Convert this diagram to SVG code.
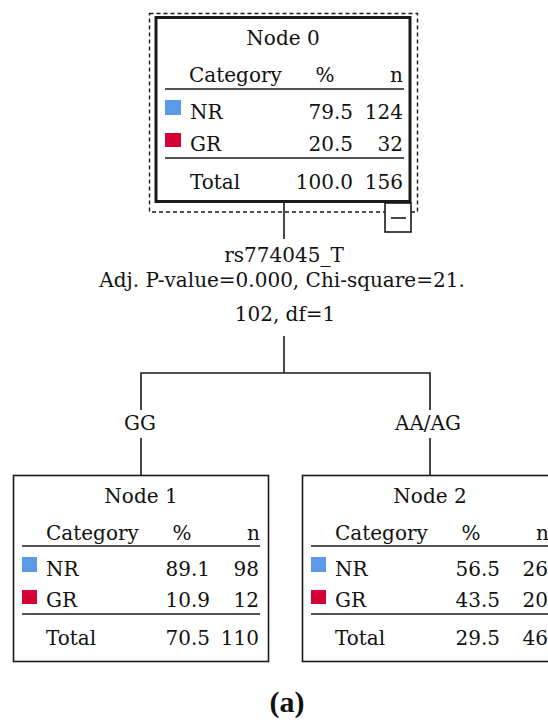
<svg xmlns="http://www.w3.org/2000/svg" width="548" height="723" viewBox="0 0 548 723">
<style>
  text { font-family: "DejaVu Serif", "Liberation Serif", serif; font-size: 20px; fill: #111; }
  .m { text-anchor: middle; }
  .e { text-anchor: end; }
  .box { fill: #fff; stroke: #1a1a1a; stroke-width: 1.6; }
  .sep { stroke: #1a1a1a; stroke-width: 1.6; }
  .con { stroke: #1a1a1a; stroke-width: 1.6; fill: none; }
  .nr { fill: #5a99e6; }
  .gr { fill: #d40036; }
  .cap { font-family: "Liberation Serif", "DejaVu Serif", serif; font-weight: bold; font-size: 30px; }
</style>
<rect width="548" height="723" fill="#fff"/>

<g id="connectors">
  <line class="con" x1="284" y1="202" x2="284" y2="239"/>
  <line class="con" x1="284" y1="336" x2="284" y2="373"/>
  <polyline class="con" points="141,410 141,373 430,373 430,410"/>
  <line class="con" x1="141" y1="438" x2="141" y2="475"/>
  <line class="con" x1="430" y1="438" x2="430" y2="475"/>
  <text class="m" x="284" y="262">rs774045_T</text>
  <text class="m" x="282" y="287">Adj. P-value=0.000, Chi-square=21.</text>
  <text class="m" x="285" y="321">102, df=1</text>
  <text class="m" x="140" y="430">GG</text>
  <text class="m" x="428" y="430">AA/AG</text>
</g>

<g id="node0">
  <rect x="149.5" y="13.5" width="268" height="198.5" fill="none" stroke="#1a1a1a" stroke-width="1.4" stroke-dasharray="4 3"/>
  <rect x="156" y="17.5" width="254" height="184" fill="#fff" stroke="#1a1a1a" stroke-width="3"/>
  <text class="m" x="283" y="45">Node 0</text>
  <text x="189" y="82">Category</text>
  <text class="m" x="325" y="82">%</text>
  <text class="e" x="403" y="82">n</text>
  <line class="sep" x1="165" y1="89" x2="404" y2="89"/>
  <rect class="nr" x="165" y="100" width="16" height="15"/>
  <text x="190" y="119">NR</text>
  <text class="e" x="353" y="119">79.5</text>
  <text class="e" x="403" y="119">124</text>
  <rect class="gr" x="165" y="133" width="16" height="14"/>
  <text x="190" y="151">GR</text>
  <text class="e" x="353" y="151">20.5</text>
  <text class="e" x="403" y="151">32</text>
  <line class="sep" x1="165" y1="158" x2="404" y2="158"/>
  <text x="190" y="189">Total</text>
  <text class="e" x="353" y="189">100.0</text>
  <text class="e" x="403" y="189">156</text>
  <rect class="box" x="385" y="203" width="26" height="29"/>
  <line class="sep" x1="391" y1="218" x2="406" y2="218"/>
</g>

<g id="node1">
  <rect class="box" x="13.5" y="475.5" width="255" height="186"/>
  <text class="m" x="141" y="503">Node 1</text>
  <text x="46" y="540">Category</text>
  <text class="m" x="182" y="540">%</text>
  <text class="e" x="260" y="540">n</text>
  <line class="sep" x1="22" y1="546" x2="260" y2="546"/>
  <rect class="nr" x="22" y="557" width="15" height="15"/>
  <text x="46" y="576">NR</text>
  <text class="e" x="210" y="576">89.1</text>
  <text class="e" x="259" y="576">98</text>
  <rect class="gr" x="22" y="590" width="15" height="14"/>
  <text x="46" y="607">GR</text>
  <text class="e" x="210" y="607">10.9</text>
  <text class="e" x="259" y="607">12</text>
  <line class="sep" x1="22" y1="614" x2="260" y2="614"/>
  <text x="46" y="645">Total</text>
  <text class="e" x="210" y="645">70.5</text>
  <text class="e" x="259" y="645">110</text>
</g>

<g id="node2">
  <rect class="box" x="302.5" y="475.5" width="255" height="186"/>
  <text class="m" x="430" y="503">Node 2</text>
  <text x="335" y="540">Category</text>
  <text class="m" x="471" y="540">%</text>
  <text class="e" x="549" y="540">n</text>
  <line class="sep" x1="311" y1="546" x2="549" y2="546"/>
  <rect class="nr" x="311" y="557" width="15" height="15"/>
  <text x="335" y="576">NR</text>
  <text class="e" x="500" y="576">56.5</text>
  <text class="e" x="548" y="576">26</text>
  <rect class="gr" x="311" y="590" width="15" height="14"/>
  <text x="335" y="607">GR</text>
  <text class="e" x="500" y="607">43.5</text>
  <text class="e" x="548" y="607">20</text>
  <line class="sep" x1="311" y1="614" x2="549" y2="614"/>
  <text x="335" y="645">Total</text>
  <text class="e" x="500" y="645">29.5</text>
  <text class="e" x="548" y="645">46</text>
</g>

<text class="cap m" x="287" y="712">(a)</text>
</svg>
